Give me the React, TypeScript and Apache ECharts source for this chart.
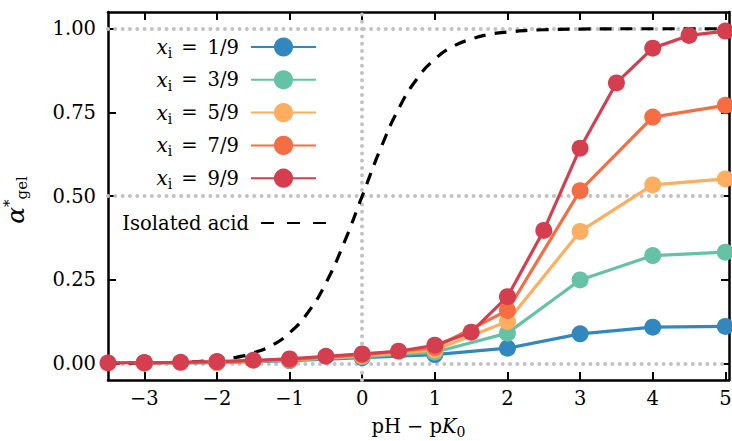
import React, { useEffect, useRef } from 'react';
import * as echarts from 'echarts';

const SERIF = 'DejaVu Serif';

// pH - pK0 sampling of the gel curves
const phFine = [-3.5, -3, -2.5, -2, -1.5, -1, -0.5, 0, 0.5, 1, 1.5, 2, 2.5, 3, 3.5, 4, 4.5, 5];
const phCoarse = [-3, -2, -1, 0, 1, 2, 3, 4, 5];

// degree of ionisation in the gel, per fraction of ionisable monomers
const alphaX1 = [0.001, 0.002, 0.008, 0.017, 0.026, 0.045, 0.088, 0.108, 0.110];
const alphaX3 = [0.001, 0.003, 0.009, 0.020, 0.033, 0.090, 0.249, 0.322, 0.332];
const alphaX5 = [0.001, 0.003, 0.010, 0.022, 0.040, 0.125, 0.394, 0.533, 0.551];
const alphaX7 = [0.001, 0.004, 0.011, 0.025, 0.047, 0.158, 0.516, 0.736, 0.771];
const alphaX9 = [0.001, 0.002, 0.003, 0.005, 0.009, 0.013, 0.021, 0.028, 0.036, 0.054, 0.093, 0.199, 0.397, 0.643, 0.838, 0.942, 0.980, 0.993];

// isolated acid titration curve
const acidPh = [-3.5, -3, -2.5, -2, -1.75, -1.5, -1.25, -1, -0.75, -0.5, -0.25, 0, 0.25, 0.5, 0.75, 1, 1.25, 1.5, 1.75, 2, 2.5, 3, 4, 5];
const acidAlpha = [0.0, 0.001, 0.003, 0.010, 0.017, 0.031, 0.053, 0.091, 0.151, 0.240, 0.360, 0.500, 0.640, 0.760, 0.849, 0.909, 0.947, 0.969, 0.983, 0.990, 0.997, 0.999, 1.0, 1.0];

const fractions = ['1/9', '3/9', '5/9', '7/9', '9/9'];
const seriesColors = ['#3288bd', '#66c2a5', '#fdae61', '#f46d43', '#d53e4f'];
const acidName = 'Isolated acid';

const xTicks = [-3, -2, -1, 0, 1, 2, 3, 4, 5];
const yTicks = [0, 0.25, 0.5, 0.75, 1];
const refLinesY = [0, 0.5, 1];
const refLinesX = [0];

const zip = (xs: number[], ys: number[]) => xs.map((x, i) => [x, ys[i]]);

export default function App() {
  const ref = useRef<HTMLDivElement>(null);

  useEffect(() => {
    if (!ref.current) return;
    const chart = echarts.init(ref.current, null, { renderer: 'svg' });

    const names = fractions.map((f) => `x_i = ${f}`);
    const gelData = [
      zip(phCoarse, alphaX1),
      zip(phCoarse, alphaX3),
      zip(phCoarse, alphaX5),
      zip(phCoarse, alphaX7),
      zip(phFine, alphaX9),
    ];

    const FS = 19.5;
    const ink = (o: Record<string, unknown>) => ({ fontFamily: SERIF, color: '#000', ...o });

    const spine = { show: true, onZero: false, lineStyle: { color: '#000', width: 2.5 } };
    const tickX = { show: true, inside: true, length: 8, customValues: xTicks, lineStyle: { color: '#000', width: 2 } };
    const tickY = { show: true, inside: true, length: 8, customValues: yTicks, lineStyle: { color: '#000', width: 2 } };

    const xRange = { type: 'value' as const, min: -3.5, max: 5.05, splitLine: { show: false } };
    const yRange = { type: 'value' as const, min: -0.05, max: 1.05, splitLine: { show: false } };

    chart.setOption({
      animation: false,
      backgroundColor: '#fff',
      textStyle: { fontFamily: SERIF },
      grid: { left: 108, right: 3, top: 12, bottom: 61, containLabel: false, outerBoundsMode: 'none' },
      // rotated y-axis title with super- and subscript
      graphic: [
        {
          type: 'text',
          x: 15,
          y: 200,
          rotation: Math.PI / 2,
          silent: true,
          style: {
            text: '{a|\u03b1}{sup|*}{sub|gel}',
            align: 'center',
            verticalAlign: 'middle',
            fill: '#000',
            font: `25px ${SERIF}`,
            rich: {
              a: { fontFamily: SERIF, fontSize: 25, lineHeight: 28, fontStyle: 'italic', fill: '#000' },
              sup: { fontFamily: SERIF, fontSize: 15, lineHeight: 22, verticalAlign: 'top', fill: '#000' },
              sub: { fontFamily: SERIF, fontSize: 15, lineHeight: 15, verticalAlign: 'bottom', fill: '#000' },
            },
          },
        },
      ],
      xAxis: [
        {
          ...xRange,
          position: 'bottom',
          axisLine: spine,
          axisTick: tickX,
          axisLabel: {
            ...ink({ fontSize: FS }),
            margin: 8,
            customValues: xTicks,
            formatter: (v: number) => String(v).replace('-', '\u2212'),
          },
          name: '{n|pH}{m|\u2212}{n|p}{k|K}{s|0}',
          nameLocation: 'middle',
          nameGap: 33,
          nameTextStyle: {
            ...ink({}),
            rich: {
              n: ink({ fontSize: FS, lineHeight: 26 }),
              m: ink({ fontSize: FS, lineHeight: 26, padding: [0, 6, 0, 6] }),
              k: ink({ fontSize: FS, lineHeight: 26, fontStyle: 'italic' }),
              s: ink({ fontSize: 14, lineHeight: 14, verticalAlign: 'bottom' }),
            },
          },
        },
        {
          ...xRange,
          position: 'top',
          axisLine: spine,
          axisTick: tickX,
          axisLabel: { show: false },
        },
      ],
      yAxis: [
        {
          ...yRange,
          position: 'left',
          axisLine: spine,
          axisTick: tickY,
          axisLabel: {
            ...ink({ fontSize: FS }),
            margin: 12,
            customValues: yTicks,
            formatter: (v: number) => v.toFixed(2),
          },
        },
        {
          ...yRange,
          position: 'right',
          axisLine: spine,
          axisTick: tickY,
          axisLabel: { show: false },
        },
      ],
      legend: [
        {
          data: names,
          orient: 'vertical',
          align: 'right',
          right: 415,
          top: 37,
          padding: 0,
          itemWidth: 65,
          itemHeight: 24,
          itemGap: 9.8,
          selectedMode: false,
          formatter: (name: string) => `{x|x}{i|i}{eq|=}{t|${name.split('= ')[1]}}`,
          textStyle: {
            ...ink({ fontSize: FS }),
            padding: [0, 7, 0, 0],
            rich: {
              x: ink({ fontSize: 20, lineHeight: 26, fontStyle: 'italic' }),
              i: ink({ fontSize: 14, lineHeight: 14, verticalAlign: 'bottom' }),
              eq: ink({ fontSize: FS, lineHeight: 26, padding: [0, 10, 0, 9] }),
              t: ink({ fontSize: FS, lineHeight: 26 }),
            },
          },
        },
        {
          data: [acidName],
          orient: 'vertical',
          align: 'right',
          right: 405,
          top: 213,
          padding: 0,
          itemWidth: 65,
          itemHeight: 24,
          selectedMode: false,
          itemStyle: { opacity: 0 },
          lineStyle: { type: [13, 13] },
          textStyle: { ...ink({ fontSize: FS }), padding: [0, 7, 0, 0] },
        },
      ],
      series: [
        {
          name: acidName,
          type: 'line',
          data: zip(acidPh, acidAlpha),
          symbol: 'none',
          smooth: 0.5,
          lineStyle: { color: '#000', width: 3.2, type: [12, 9] },
          itemStyle: { color: '#000' },
          z: 2,
          markLine: {
            silent: true,
            symbol: 'none',
            z: 1,
            label: { show: false },
            lineStyle: { color: '#c2c2c2', width: 4, type: [0.01, 7.3], cap: 'round' },
            data: [
              ...refLinesY.map((v) => ({ yAxis: v })),
              ...refLinesX.map((v) => ({ xAxis: v })),
            ],
          },
        },
        ...gelData.map((d, i) => ({
          name: names[i],
          type: 'line',
          data: d,
          symbol: 'circle',
          symbolSize: 17,
          clip: false,
          color: seriesColors[i],
          lineStyle: { color: seriesColors[i], width: 3.2 },
          itemStyle: { color: seriesColors[i] },
          z: 3,
        })),
      ],
    });

    return () => chart.dispose();
  }, []);

  return <div ref={ref} style={{ position: 'absolute', left: 0, top: 0, width: 732, height: 441 }} />;
}
